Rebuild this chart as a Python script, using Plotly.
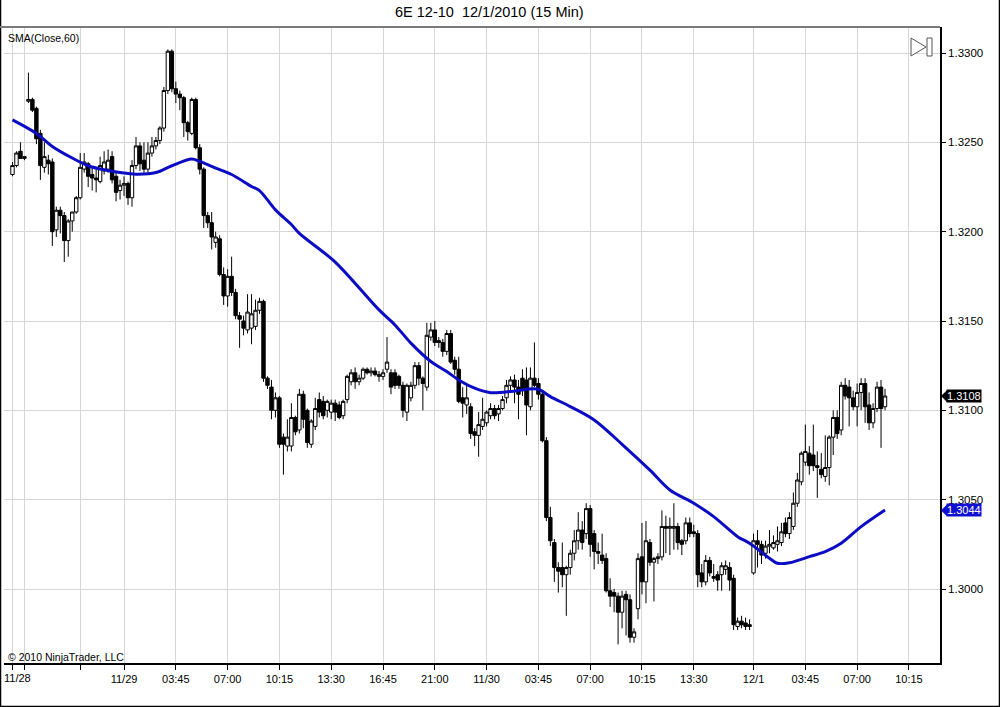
import plotly.graph_objects as go

# ---------------- data (15-min bars, 6E 12-10) ----------------
bar_index = list(range(220))

open_ = [
 1.3232,1.3237,1.3245,1.3241,1.3273,1.3274,1.3269,1.3255,1.3236,1.3240,
 1.3239,1.3201,1.3212,1.3209,1.3195,1.3206,1.3211,1.3219,1.3235,1.3238,
 1.3232,1.3230,1.3228,1.3234,1.3235,1.3242,1.3231,1.3223,1.3226,1.3227,
 1.3219,1.3237,1.3248,1.3240,1.3235,1.3244,1.3248,1.3251,1.3258,1.3279,
 1.3301,1.3280,1.3277,1.3275,1.3261,1.3255,1.3274,1.3247,1.3235,1.3209,
 1.3205,1.3194,1.3196,1.3176,1.3164,1.3175,1.3166,1.3153,1.3150,1.3145,
 1.3146,1.3147,1.3156,1.3161,1.3118,1.3113,1.3100,1.3107,1.3085,1.3080,
 1.3080,1.3096,1.3089,1.3109,1.3100,1.3081,1.3091,1.3106,1.3105,1.3100,
 1.3099,1.3104,1.3103,1.3097,1.3106,1.3116,1.3121,1.3116,1.3118,1.3123,
 1.3121,1.3122,1.3119,1.3119,1.3123,1.3121,1.3121,1.3119,1.3114,1.3099,
 1.3107,1.3114,1.3125,1.3118,1.3113,1.3141,1.3145,1.3139,1.3138,1.3133,
 1.3143,1.3128,1.3123,1.3107,1.3103,1.3102,1.3088,1.3086,1.3091,1.3093,
 1.3097,1.3101,1.3098,1.3101,1.3107,1.3114,1.3117,1.3113,1.3118,1.3117,
 1.3102,1.3118,1.3115,1.3109,1.3083,1.3040,1.3026,1.3012,1.3012,1.3008,
 1.3012,1.3020,1.3027,1.3033,1.3031,1.3045,1.3031,1.3021,1.3019,1.3017,
 1.2999,1.2998,1.2996,1.2987,1.2997,1.2994,1.2973,1.2989,1.3018,1.3004,
 1.3026,1.3015,1.3017,1.3018,1.3035,1.3034,1.3034,1.3035,1.3027,1.3027,
 1.3037,1.3032,1.3031,1.3009,1.3004,1.3016,1.3007,1.3008,1.3008,1.3011,
 1.3012,1.3006,1.2979,1.2982,1.2981,1.2980,1.3009,1.3027,1.3025,1.3020,
 1.3024,1.3023,1.3025,1.3026,1.3037,1.3031,1.3035,1.3048,1.3060,1.3071,
 1.3076,1.3075,1.3069,1.3067,1.3063,1.3068,1.3085,1.3096,1.3089,1.3114,
 1.3113,1.3107,1.3102,1.3110,1.3115,1.3103,1.3093,1.3101,1.3113,1.3102,
]

high = [
 1.3239,1.3245,1.3250,1.3242,1.3289,1.3275,1.3270,1.3257,1.3250,1.3243,
 1.3241,1.3214,1.3214,1.3211,1.3207,1.3211,1.3220,1.3244,1.3244,1.3239,
 1.3236,1.3235,1.3242,1.3245,1.3246,1.3245,1.3233,1.3229,1.3231,1.3228,
 1.3240,1.3253,1.3250,1.3250,1.3250,1.3253,1.3253,1.3259,1.3281,1.3302,
 1.3302,1.3284,1.3279,1.3276,1.3262,1.3275,1.3275,1.3249,1.3236,1.3211,
 1.3211,1.3200,1.3198,1.3180,1.3179,1.3186,1.3168,1.3155,1.3153,1.3165,
 1.3165,1.3162,1.3163,1.3162,1.3119,1.3117,1.3110,1.3108,1.3087,1.3095,
 1.3104,1.3097,1.3112,1.3111,1.3101,1.3095,1.3107,1.3110,1.3108,1.3106,
 1.3106,1.3106,1.3105,1.3106,1.3120,1.3123,1.3124,1.3120,1.3124,1.3124,
 1.3124,1.3124,1.3122,1.3123,1.3141,1.3123,1.3123,1.3120,1.3116,1.3115,
 1.3116,1.3127,1.3127,1.3119,1.3149,1.3149,1.3150,1.3141,1.3140,1.3145,
 1.3145,1.3130,1.3130,1.3113,1.3114,1.3104,1.3090,1.3099,1.3107,1.3100,
 1.3104,1.3103,1.3103,1.3108,1.3117,1.3119,1.3120,1.3117,1.3123,1.3124,
 1.3124,1.3138,1.3118,1.3110,1.3085,1.3046,1.3028,1.3015,1.3026,1.3013,
 1.3022,1.3033,1.3043,1.3038,1.3048,1.3047,1.3033,1.3026,1.3031,1.3020,
 1.3006,1.3000,1.2998,1.2999,1.2999,1.2997,1.2978,1.3020,1.3037,1.3038,
 1.3028,1.3018,1.3020,1.3044,1.3041,1.3040,1.3048,1.3037,1.3028,1.3040,
 1.3040,1.3036,1.3033,1.3014,1.3019,1.3018,1.3014,1.3010,1.3015,1.3016,
 1.3015,1.3008,1.2984,1.2985,1.2984,1.2983,1.3031,1.3033,1.3027,1.3027,
 1.3033,1.3030,1.3035,1.3037,1.3040,1.3043,1.3054,1.3065,1.3077,1.3092,
 1.3080,1.3092,1.3077,1.3076,1.3086,1.3086,1.3100,1.3100,1.3116,1.3118,
 1.3117,1.3111,1.3115,1.3118,1.3118,1.3110,1.3104,1.3116,1.3117,1.3112,
]

low = [
 1.3231,1.3236,1.3241,1.3240,1.3272,1.3267,1.3249,1.3229,1.3233,1.3232,
 1.3192,1.3197,1.3199,1.3183,1.3186,1.3200,1.3210,1.3218,1.3233,1.3225,
 1.3223,1.3222,1.3227,1.3232,1.3233,1.3227,1.3217,1.3218,1.3220,1.3215,
 1.3214,1.3235,1.3234,1.3233,1.3233,1.3242,1.3246,1.3249,1.3256,1.3277,
 1.3278,1.3272,1.3268,1.3253,1.3251,1.3254,1.3246,1.3232,1.3202,1.3202,
 1.3190,1.3191,1.3175,1.3159,1.3158,1.3164,1.3151,1.3135,1.3142,1.3143,
 1.3137,1.3145,1.3154,1.3116,1.3112,1.3095,1.3096,1.3079,1.3064,1.3077,
 1.3077,1.3086,1.3087,1.3090,1.3079,1.3079,1.3089,1.3096,1.3095,1.3096,
 1.3095,1.3094,1.3095,1.3095,1.3104,1.3114,1.3112,1.3114,1.3117,1.3120,
 1.3119,1.3119,1.3116,1.3117,1.3121,1.3109,1.3112,1.3112,1.3096,1.3094,
 1.3105,1.3112,1.3114,1.3100,1.3111,1.3139,1.3136,1.3135,1.3130,1.3131,
 1.3126,1.3120,1.3104,1.3096,1.3098,1.3084,1.3080,1.3074,1.3089,1.3091,
 1.3095,1.3095,1.3094,1.3100,1.3104,1.3111,1.3104,1.3095,1.3108,1.3086,
 1.3100,1.3113,1.3106,1.3082,1.3038,1.3024,1.3004,1.2998,1.3001,1.2985,
 1.3008,1.3016,1.3022,1.3022,1.3028,1.3018,1.3011,1.3014,1.3014,1.2998,
 1.2990,1.2987,1.2969,1.2978,1.2974,1.2970,1.2970,1.2983,1.2997,1.2992,
 1.3013,1.2993,1.3014,1.3016,1.3020,1.3019,1.3022,1.3022,1.3019,1.3025,
 1.3029,1.3029,1.3001,1.3001,1.3002,1.3007,1.3004,1.2999,1.2999,1.3008,
 1.2999,1.2977,1.2977,1.2978,1.2977,1.2977,1.3008,1.3012,1.3014,1.3017,
 1.3020,1.3022,1.3021,1.3024,1.3029,1.3028,1.3033,1.3046,1.3058,1.3069,
 1.3064,1.3066,1.3051,1.3062,1.3060,1.3058,1.3075,1.3084,1.3086,1.3106,
 1.3091,1.3100,1.3091,1.3100,1.3093,1.3089,1.3090,1.3099,1.3079,1.3100,
]

close = [
 1.3237,1.3244,1.3241,1.3242,1.3274,1.3268,1.3252,1.3237,1.3242,1.3238,
 1.3200,1.3212,1.3209,1.3195,1.3206,1.3211,1.3219,1.3236,1.3239,1.3231,
 1.3230,1.3229,1.3237,1.3239,1.3240,1.3229,1.3222,1.3226,1.3227,1.3219,
 1.3237,1.3248,1.3238,1.3235,1.3244,1.3248,1.3251,1.3258,1.3279,1.3301,
 1.3280,1.3277,1.3275,1.3261,1.3256,1.3274,1.3247,1.3235,1.3209,1.3205,
 1.3197,1.3197,1.3176,1.3164,1.3175,1.3166,1.3153,1.3151,1.3146,1.3155,
 1.3154,1.3156,1.3161,1.3118,1.3114,1.3100,1.3107,1.3081,1.3081,1.3085,
 1.3096,1.3088,1.3109,1.3095,1.3082,1.3094,1.3101,1.3099,1.3097,1.3105,
 1.3104,1.3099,1.3096,1.3105,1.3119,1.3121,1.3116,1.3118,1.3123,1.3121,
 1.3122,1.3120,1.3120,1.3121,1.3127,1.3113,1.3114,1.3114,1.3100,1.3114,
 1.3114,1.3125,1.3118,1.3115,1.3142,1.3145,1.3138,1.3138,1.3133,1.3143,
 1.3127,1.3123,1.3105,1.3104,1.3107,1.3087,1.3086,1.3092,1.3095,1.3099,
 1.3101,1.3097,1.3101,1.3106,1.3114,1.3117,1.3113,1.3109,1.3111,1.3103,
 1.3118,1.3114,1.3109,1.3083,1.3040,1.3027,1.3012,1.3010,1.3008,1.3012,
 1.3020,1.3027,1.3033,1.3026,1.3045,1.3025,1.3021,1.3020,1.3016,1.2999,
 1.2996,1.2996,1.2987,1.2996,1.2994,1.2973,1.2976,1.3017,1.3004,1.3027,
 1.3015,1.3017,1.3018,1.3035,1.3034,1.3035,1.3035,1.3026,1.3025,1.3037,
 1.3031,1.3031,1.3008,1.3004,1.3016,1.3009,1.3006,1.3005,1.3013,1.3013,
 1.3005,1.2980,1.2982,1.2980,1.2979,1.2979,1.3027,1.3025,1.3019,1.3024,
 1.3025,1.3026,1.3027,1.3032,1.3031,1.3040,1.3048,1.3061,1.3076,1.3077,
 1.3069,1.3069,1.3068,1.3064,1.3068,1.3085,1.3096,1.3087,1.3114,1.3108,
 1.3107,1.3102,1.3110,1.3115,1.3102,1.3093,1.3101,1.3113,1.3101,1.3108,
]

# SMA(Close,60) (bar index, value)
sma_index = [0, 6, 10, 15, 19, 23, 27, 31, 36, 40, 45, 47, 51, 55, 60, 62, 66, 70,
             72, 81, 92, 96, 100, 105, 109, 112, 116, 120, 125, 129, 132, 135, 140,
             146, 153, 160, 165, 171, 176, 182, 185, 190, 192, 195, 200, 204, 208,
             213, 219]
sma_value = [1.32626, 1.32550, 1.32477, 1.32412, 1.32369, 1.32346, 1.32331, 1.32322,
             1.32331, 1.32369, 1.32406, 1.32393, 1.32356, 1.32320, 1.32253, 1.32230,
             1.32122, 1.32040, 1.31990, 1.31830, 1.31562, 1.31478, 1.31376, 1.31273,
             1.31217, 1.31170, 1.31124, 1.31099, 1.31105, 1.31118, 1.31118, 1.31077,
             1.31021, 1.30946, 1.30810, 1.30665, 1.30554, 1.30480, 1.30405, 1.30293,
             1.30256, 1.30172, 1.30144, 1.30147, 1.30181, 1.30209, 1.30256, 1.30349,
             1.30442]

x_tick_vals = [0, 3, 17, 28, 41, 54, 67, 80, 93, 106, 119, 132, 145, 158, 171, 186, 199, 212, 225]
x_tick_text = ["", "", "", "11/29", "03:45", "07:00", "10:15", "13:30", "16:45", "21:00",
               "11/30", "03:45", "07:00", "10:15", "13:30", "12/1", "03:45", "07:00", "10:15"]
y_tick_vals = [1.3000, 1.3050, 1.3100, 1.3150, 1.3200, 1.3250, 1.3300]
y_tick_text = ["1.3000", "1.3050", "1.3100", "1.3150", "1.3200", "1.3250", "1.3300"]

last_close = 1.3108
last_sma = 1.3044

# ---------------- layout helpers (pixel -> paper) ----------------
W, H = 1000, 707
L, R, T, B = 4, 940, 27, 663


def px(x):
    return (x - L) / (R - L)


def py(y):
    return (B - y) / (B - T)


FONT = "Liberation Sans, Arial, sans-serif"

fig = go.Figure()
fig.add_trace(go.Candlestick(
    x=bar_index, open=open_, high=high, low=low, close=close,
    increasing=dict(line=dict(color="black", width=1), fillcolor="white"),
    decreasing=dict(line=dict(color="black", width=1), fillcolor="black"),
    whiskerwidth=0, showlegend=False, hoverinfo="skip",
))
fig.add_trace(go.Scatter(
    x=sma_index, y=sma_value, mode="lines",
    line=dict(color="#0c0cc4", width=3, shape="spline", smoothing=0.9),
    showlegend=False, hoverinfo="skip",
))

shapes = []
# outer frame of image (left, right, bottom)
for x0, y0, x1, y1 in [(0.5, 0, 0.5, 707), (999.5, 0, 999.5, 707), (0, 706.5, 1000, 706.5)]:
    shapes.append(dict(type="line", xref="paper", yref="paper",
                       x0=px(x0), y0=py(y0), x1=px(x1), y1=py(y1),
                       line=dict(color="black", width=1.5)))
# top border of chart panel
shapes.append(dict(type="line", xref="paper", yref="paper",
                   x0=px(0), y0=py(27), x1=px(940), y1=py(27),
                   line=dict(color="#7a7a7a", width=2)))
# play-to-end icon
shapes.append(dict(type="path", xref="paper", yref="paper",
                   path=f"M {px(911)},{py(38)} L {px(926)},{py(47)} L {px(911)},{py(56)} Z",
                   line=dict(color="#555555", width=1), fillcolor="white"))
shapes.append(dict(type="rect", xref="paper", yref="paper",
                   x0=px(927), y0=py(38), x1=px(932), y1=py(56),
                   line=dict(color="#555555", width=1), fillcolor="white"))
# pointers of price markers
for val, col in [(last_close, "black"), (last_sma, "#1010d0")]:
    shapes.append(dict(type="path", xref="paper", yref="y",
                       path=f"M {px(941)},{val} L {px(947)},{val + 0.00033} L {px(947)},{val - 0.00033} Z",
                       line=dict(color=col, width=0), fillcolor=col))

annotations = [
    dict(text="6E 12-10\u00a0\u00a012/1/2010 (15 Min)", xref="paper", yref="paper",
         x=px(489), y=py(12), xanchor="center", yanchor="middle", showarrow=False,
         font=dict(family=FONT, size=14.5, color="black")),
    dict(text="SMA(Close,60)", xref="paper", yref="paper", x=px(6), y=py(38),
         xanchor="left", yanchor="middle", showarrow=False,
         font=dict(family=FONT, size=10.5, color="black")),
    dict(text="© 2010 NinjaTrader, LLC", xref="paper", yref="paper", x=px(6), y=py(657),
         xanchor="left", yanchor="middle", showarrow=False,
         font=dict(family=FONT, size=10.5, color="black")),
    dict(text="11/28", xref="x", yref="paper", x=1.3, y=py(678),
         xanchor="center", yanchor="middle", showarrow=False,
         font=dict(family=FONT, size=11, color="black")),
    dict(text="1.3108", xref="paper", yref="y", x=px(946), y=last_close,
         xanchor="left", yanchor="middle", showarrow=False, bgcolor="black",
         borderpad=0, font=dict(family=FONT, size=11, color="white")),
    dict(text="1.3044", xref="paper", yref="y", x=px(946), y=last_sma,
         xanchor="left", yanchor="middle", showarrow=False, bgcolor="#1010d0",
         borderpad=0, font=dict(family=FONT, size=11, color="white")),
]

fig.update_layout(
    width=W, height=H,
    margin=dict(l=L, r=W - R, t=T, b=H - B),
    paper_bgcolor="white", plot_bgcolor="white",
    font=dict(family=FONT, size=11, color="black"),
    boxgap=0.15, boxgroupgap=0.0,
    shapes=shapes, annotations=annotations,
    xaxis=dict(
        range=[-2.13, 232.8], tickmode="array", tickvals=x_tick_vals, ticktext=x_tick_text,
        showgrid=True, gridcolor="#d6d6d6", gridwidth=1, zeroline=False,
        ticks="outside", ticklen=5, tickcolor="black", tickwidth=1,
        showline=True, linecolor="black", linewidth=1.5,
        rangeslider=dict(visible=False), tickfont=dict(size=11),
        fixedrange=True,
    ),
    yaxis=dict(
        side="right", range=[1.295858, 1.331455], tickmode="array",
        tickvals=y_tick_vals, ticktext=y_tick_text,
        showgrid=True, gridcolor="#d6d6d6", gridwidth=1, zeroline=False,
        ticks="outside", ticklen=4, tickcolor="black",
        showline=True, linecolor="black", linewidth=1.5,
        tickfont=dict(size=11.5), fixedrange=True,
    ),
)

fig.write_html("out.html",
               config={"displayModeBar": False},
               post_script="document.body.style.margin='0';document.body.style.overflow='hidden';")
